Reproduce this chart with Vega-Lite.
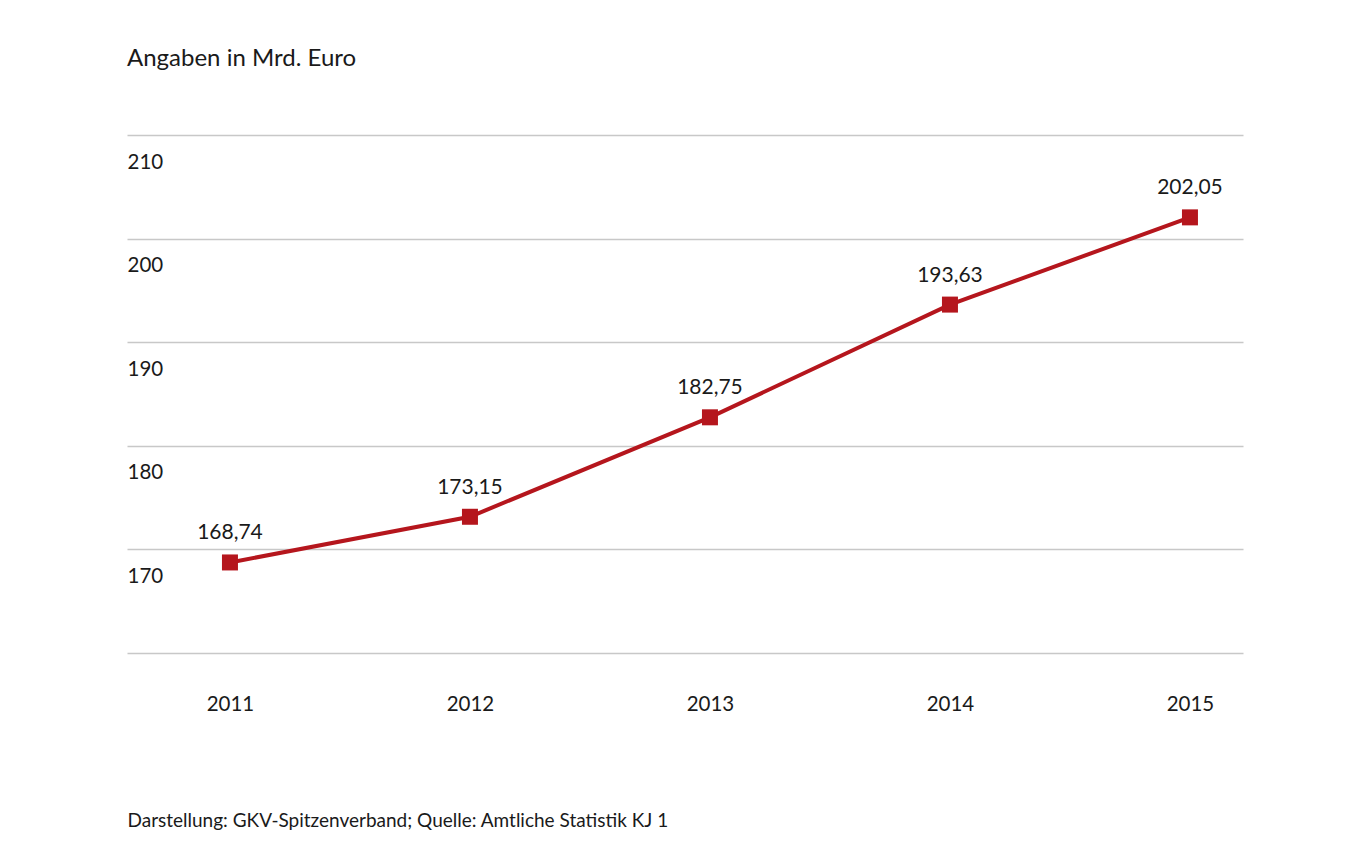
{
  "$schema": "https://vega.github.io/schema/vega-lite/v6.json",
  "autosize": {"type": "none"},
  "width": 1116,
  "height": 518,
  "padding": {"left": 127, "top": 135, "right": 104, "bottom": 211},
  "background": "#ffffff",
  "config": {
    "font": "Lato",
    "view": {"stroke": null},
    "locale": {"number": {"decimal": ",", "thousands": ".", "grouping": [3], "currency": ["", " €"]}}
  },
  "title": {
    "text": "Angaben in Mrd. Euro",
    "anchor": "start",
    "frame": "group",
    "fontSize": 24,
    "fontWeight": "normal",
    "color": "#1a1a1a",
    "offset": 64
  },
  "data": {
    "values": [
      {"year": 2011, "value": 168.74},
      {"year": 2012, "value": 173.15},
      {"year": 2013, "value": 182.75},
      {"year": 2014, "value": 193.63},
      {"year": 2015, "value": 202.05}
    ]
  },
  "encoding": {
    "x": {
      "field": "year",
      "type": "quantitative",
      "scale": {"domain": [2010.571, 2015.221], "nice": false, "zero": false},
      "axis": {
        "values": [2011, 2012, 2013, 2014, 2015],
        "format": "d",
        "grid": false,
        "domain": false,
        "ticks": false,
        "labelFontSize": 20.5,
        "labelColor": "#1a1a1a",
        "labelPadding": 41,
        "title": "Darstellung: GKV-Spitzenverband; Quelle: Amtliche Statistik KJ 1",
        "titleFontSize": 19,
        "titleFontWeight": "normal",
        "titleColor": "#1a1a1a",
        "titleAnchor": "start",
        "titleAlign": "left",
        "titlePadding": 97
      }
    },
    "y": {
      "field": "value",
      "type": "quantitative",
      "scale": {"domain": [160, 210], "nice": false, "zero": false},
      "axis": {
        "values": [160, 170, 180, 190, 200, 210],
        "labelExpr": "datum.value == 160 ? '' : datum.label",
        "grid": true,
        "gridColor": "#c8c8c8",
        "gridWidth": 1.5,
        "domain": false,
        "ticks": false,
        "labelAlign": "left",
        "labelBaseline": "middle",
        "labelOffset": 27,
        "labelPadding": 0,
        "labelFontSize": 20.5,
        "labelColor": "#1a1a1a",
        "title": null
      }
    }
  },
  "layer": [
    {"mark": {"type": "line", "color": "#b5161d", "strokeWidth": 4}},
    {"mark": {"type": "point", "shape": "square", "filled": true, "size": 256, "color": "#b5161d", "opacity": 1}},
    {
      "mark": {"type": "text", "dy": -29, "fontSize": 21, "color": "#1a1a1a", "baseline": "middle"},
      "encoding": {"text": {"field": "value", "type": "quantitative", "format": ".2f"}}
    }
  ]
}
